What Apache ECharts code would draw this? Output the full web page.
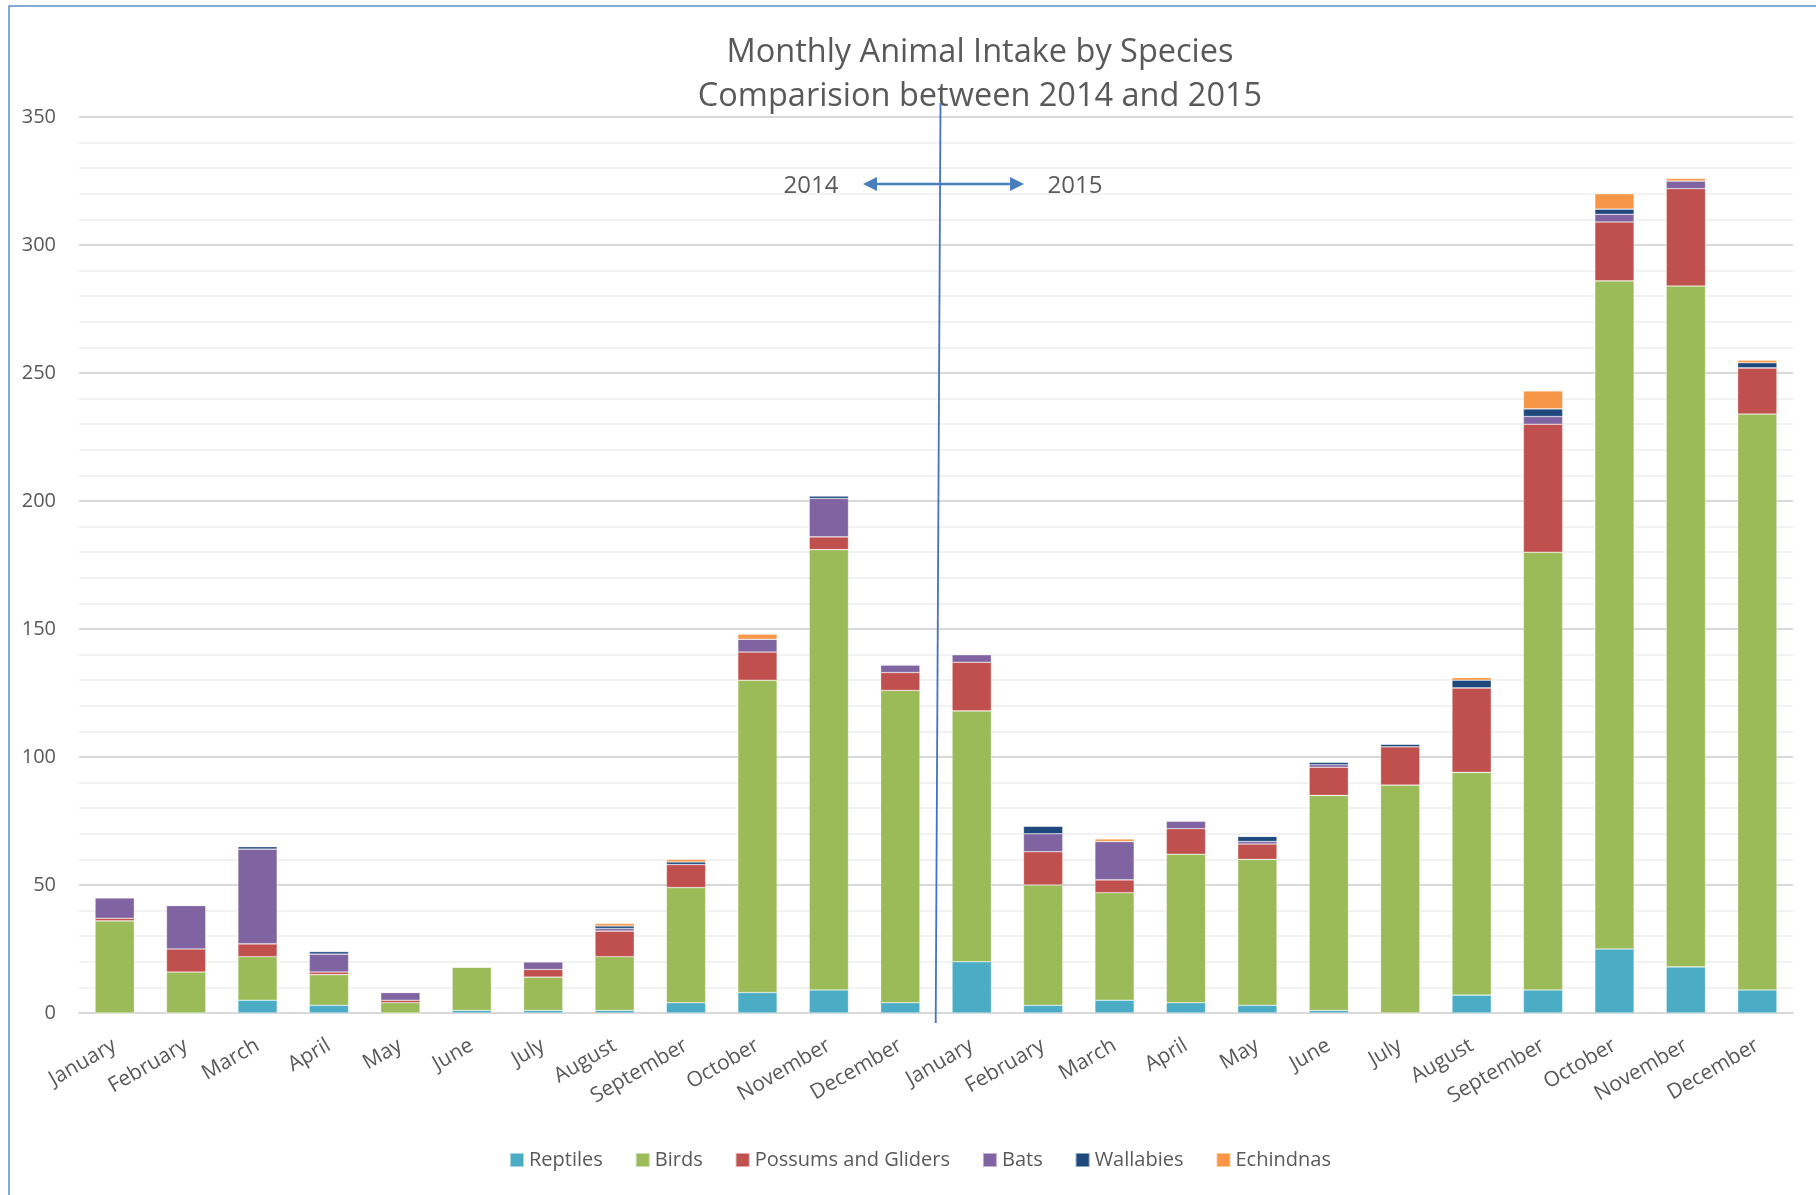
<!DOCTYPE html>
<html>
<head>
<meta charset="utf-8">
<title>Monthly Animal Intake by Species</title>
<script src="https://cdn.jsdelivr.net/npm/echarts@6/dist/echarts.min.js"></script>
<style>
  html, body { margin: 0; padding: 0; background: #fff; }
  #chart { width: 1816px; height: 1195px; }
</style>
</head>
<body>
<div id="chart"></div>
<script>
var months = ['January', 'February', 'March', 'April', 'May', 'June', 'July',
              'August', 'September', 'October', 'November', 'December'];
var categories = months.concat(months);

// 2014 first, then 2015
var reptiles = [0, 0, 5, 3, 0, 1, 1, 1, 4, 8, 9, 4,
                20, 3, 5, 4, 3, 1, 0, 7, 9, 25, 18, 9];
var birds = [36, 16, 17, 12, 4, 17, 13, 21, 45, 122, 172, 122,
             98, 47, 42, 58, 57, 84, 89, 87, 171, 261, 266, 225];
var possums = [1, 9, 5, 1, 1, 0, 3, 10, 9, 11, 5, 7,
               19, 13, 5, 10, 6, 11, 15, 33, 50, 23, 38, 18];
var bats = [8, 17, 37, 7, 3, 0, 3, 1, 0, 5, 15, 3,
            3, 7, 15, 3, 1, 1, 0, 0, 3, 3, 3, 0];
var wallabies = [0, 0, 1, 1, 0, 0, 0, 1, 1, 0, 1, 0,
                 0, 3, 0, 0, 2, 1, 1, 3, 3, 2, 0, 2];
var echidnas = [0, 0, 0, 0, 0, 0, 0, 1, 1, 2, 0, 0,
                0, 0, 1, 0, 0, 0, 0, 1, 7, 6, 1, 1];

var seriesNames = ['Reptiles', 'Birds', 'Possums and Gliders', 'Bats', 'Wallabies', 'Echindnas'];
var seriesData = [reptiles, birds, possums, bats, wallabies, echidnas];
var colors = ['#4BACC6', '#9BBB59', '#C0504D', '#8064A2', '#1F497D', '#F79646'];

var yTicks = [0, 50, 100, 150, 200, 250, 300, 350];

var chart = document.getElementById('chart');
var myChart = echarts.init(chart);

var font = 'Open Sans';
var grey = '#595959';

var series = seriesNames.map(function (name, i) {
    return {
        name: name,
        type: 'bar',
        stack: 'total',
        barWidth: '55%',
        itemStyle: {
            color: colors[i],
            borderColor: 'rgba(255,255,255,0.5)',
            borderWidth: 0.6
        },
        data: seriesData[i]
    };
});

var option = {
    animation: false,
    color: colors,
    textStyle: { fontFamily: font },
    title: {
        text: 'Monthly Animal Intake by Species\nComparision between 2014 and 2015',
        left: 975,
        top: 26,
        textAlign: 'center',
        textStyle: {
            fontFamily: font,
            fontSize: 32.5,
            fontWeight: 'normal',
            color: grey,
            lineHeight: 44
        }
    },
    legend: {
        left: 504,
        top: 1145,
        icon: 'rect',
        itemWidth: 14,
        itemHeight: 14,
        itemGap: 32,
        textStyle: { fontFamily: font, fontSize: 20, color: grey },
        data: seriesNames
    },
    grid: {
        left: 79,
        right: 23,
        top: 117,
        bottom: 182,
        containLabel: false
    },
    xAxis: {
        type: 'category',
        data: categories,
        axisTick: { show: false },
        axisLine: { lineStyle: { color: '#d9d9d9', width: 2 } },
        axisLabel: {
            interval: 0,
            rotate: 30,
            margin: 31,
            fontFamily: font,
            fontSize: 21,
            color: grey
        }
    },
    yAxis: {
        type: 'value',
        min: yTicks[0],
        max: yTicks[yTicks.length - 1],
        interval: 50,
        axisLine: { show: false },
        axisTick: { show: false },
        axisLabel: {
            margin: 23,
            fontFamily: font,
            fontSize: 20,
            color: grey
        },
        splitLine: { lineStyle: { color: '#d9d9d9', width: 2 } },
        minorTick: { show: false, splitNumber: 5 },
        minorSplitLine: { show: true, lineStyle: { color: '#f2f2f2', width: 2 } }
    },
    graphic: [
        {
            type: 'rect',
            silent: true,
            shape: { x: 9, y: 6, width: 1900, height: 1300 },
            style: { fill: 'none', stroke: '#5b8fd0', lineWidth: 1.5 }
        },
        {
            type: 'line',
            silent: true,
            z: 100,
            shape: { x1: 940.5, y1: 103, x2: 935.7, y2: 1023 },
            style: { stroke: '#4472C4', lineWidth: 1.8 }
        },
        {
            type: 'line',
            silent: true,
            z: 100,
            shape: { x1: 873, y1: 184, x2: 1014, y2: 184 },
            style: { stroke: '#4a7ebb', lineWidth: 2.5 }
        },
        {
            type: 'polygon',
            silent: true,
            z: 100,
            shape: { points: [[863, 184], [877, 177], [877, 191]] },
            style: { fill: '#4a7ebb' }
        },
        {
            type: 'polygon',
            silent: true,
            z: 100,
            shape: { points: [[1024, 184], [1010, 177], [1010, 191]] },
            style: { fill: '#4a7ebb' }
        },
        {
            type: 'text',
            silent: true,
            x: 811,
            y: 186,
            style: {
                text: '2014',
                fontFamily: font,
                fontSize: 24,
                fill: grey,
                align: 'center',
                verticalAlign: 'middle'
            }
        },
        {
            type: 'text',
            silent: true,
            x: 1075,
            y: 186,
            style: {
                text: '2015',
                fontFamily: font,
                fontSize: 24,
                fill: grey,
                align: 'center',
                verticalAlign: 'middle'
            }
        }
    ],
    series: series
};

myChart.setOption(option);
</script>
</body>
</html>
